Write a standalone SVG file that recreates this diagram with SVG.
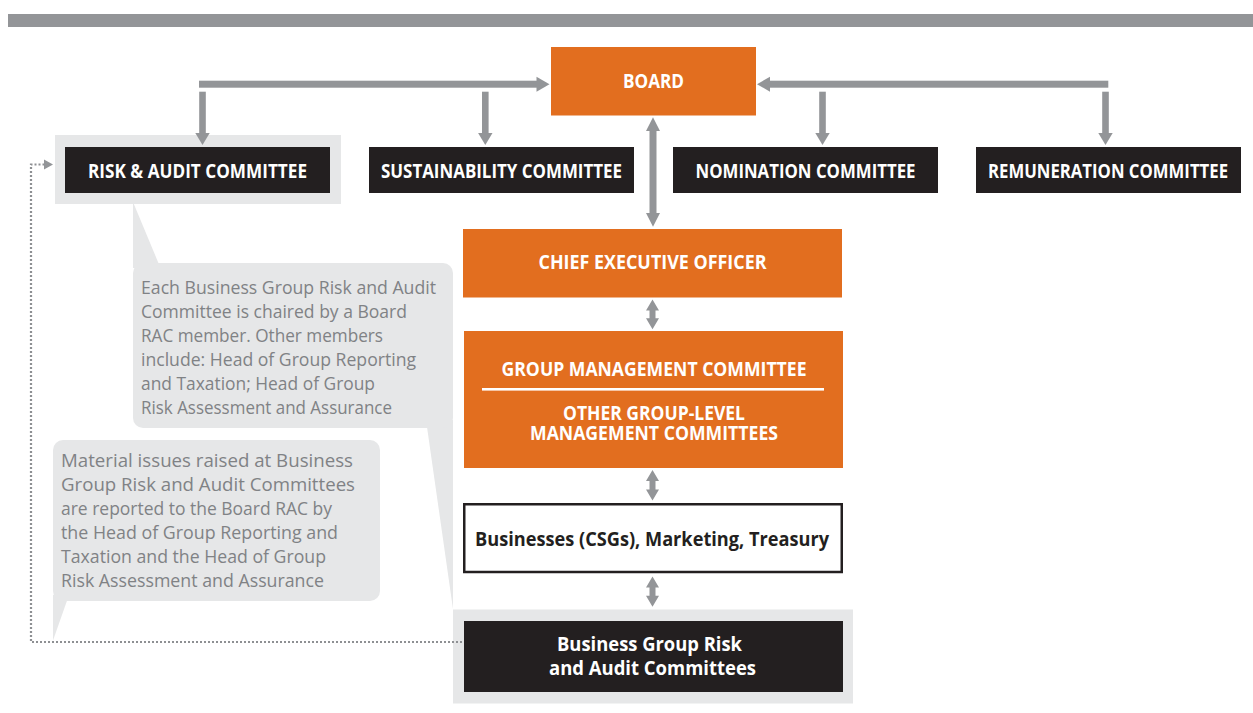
<svg xmlns="http://www.w3.org/2000/svg" width="1253" height="713" viewBox="0 0 1253 713">
<style>
.org{fill:#E26E1F}
.blk{fill:#231F20}
.bg{fill:#E6E7E8}
.arr{fill:#939598}
.hd{font-family:"Open Sans","Liberation Sans",sans-serif;font-weight:bold;font-size:19.5px;fill:#FFFFFF;text-anchor:middle}
.hd2{font-family:"Open Sans","Liberation Sans",sans-serif;font-weight:bold;font-size:20px;fill:#FFFFFF;text-anchor:middle}
.hd3{font-family:"Open Sans","Liberation Sans",sans-serif;font-weight:bold;font-size:19px;fill:#FFFFFF;text-anchor:middle}
.note{font-family:"Open Sans","Liberation Sans",sans-serif;font-size:18.5px;fill:#808285}
.dot{fill:none;stroke:#8E9093;stroke-width:2.2;stroke-dasharray:2 2}
</style>
<rect x="8" y="14" width="1245" height="13" fill="#939598"/>

<g id="board">
  <rect class="org" x="551" y="47" width="205" height="68.5"/>
  <text class="hd2" x="653.5" y="88.3" textLength="61" lengthAdjust="spacingAndGlyphs">BOARD</text>
</g>

<g id="risk-audit-committee">
  <rect class="bg" x="55" y="135" width="286" height="69"/>
  <rect class="blk" x="65" y="147" width="265" height="46"/>
  <text class="hd" x="197.5" y="177.5" textLength="219" lengthAdjust="spacingAndGlyphs">RISK &amp; AUDIT COMMITTEE</text>
</g>

<g id="sustainability-committee">
  <rect class="blk" x="369" y="147" width="265" height="46"/>
  <text class="hd" x="501.5" y="177.5" textLength="241" lengthAdjust="spacingAndGlyphs">SUSTAINABILITY COMMITTEE</text>
</g>

<g id="nomination-committee">
  <rect class="blk" x="673" y="147" width="265" height="46"/>
  <text class="hd" x="805.5" y="177.5" textLength="220" lengthAdjust="spacingAndGlyphs">NOMINATION COMMITTEE</text>
</g>

<g id="remuneration-committee">
  <rect class="blk" x="976" y="147" width="265" height="46"/>
  <text class="hd" x="1108" y="177.5" textLength="240" lengthAdjust="spacingAndGlyphs">REMUNERATION COMMITTEE</text>
</g>

<g id="ceo">
  <rect class="org" x="463" y="229" width="379" height="68.5"/>
  <text class="hd" x="652.5" y="269" textLength="228" lengthAdjust="spacingAndGlyphs">CHIEF EXECUTIVE OFFICER</text>
</g>

<g id="group-management-committee">
  <rect class="org" x="464" y="331" width="379" height="137"/>
  <text class="hd" x="654" y="376" textLength="305" lengthAdjust="spacingAndGlyphs">GROUP MANAGEMENT COMMITTEE</text>
  <rect x="482" y="388" width="342" height="2.6" fill="#FFFFFF"/>
  <text class="hd3" x="654" y="420" textLength="182" lengthAdjust="spacingAndGlyphs">OTHER GROUP-LEVEL</text>
  <text class="hd3" x="654" y="440" textLength="248" lengthAdjust="spacingAndGlyphs">MANAGEMENT COMMITTEES</text>
</g>

<g id="businesses">
  <rect x="464.25" y="504.25" width="377.5" height="67.75" fill="#FFFFFF" stroke="#231F20" stroke-width="2.5"/>
  <text class="hd2" x="652" y="545.5" style="fill:#231F20" textLength="354" lengthAdjust="spacingAndGlyphs">Businesses (CSGs), Marketing, Treasury</text>
</g>

<g id="business-group-rac">
  <rect class="bg" x="453" y="609.5" width="400" height="94"/>
  <rect class="blk" x="464" y="621" width="379" height="71"/>
  <text class="hd3" x="649.5" y="650.7" textLength="185" lengthAdjust="spacingAndGlyphs">Business Group Risk</text>
  <text class="hd3" x="652.5" y="674.5" textLength="207" lengthAdjust="spacingAndGlyphs">and Audit Committees</text>
</g>

<g id="callout-members">
  <polygon class="bg" points="133,202 133,268 160.5,268"/>
  <polygon class="bg" points="426,420 453,420 453,609"/>
  <rect class="bg" x="133" y="263" width="320" height="165" rx="10" ry="10"/>
  <text class="note" x="141" y="294.3" textLength="295" lengthAdjust="spacingAndGlyphs">Each Business Group Risk and Audit</text>
  <text class="note" x="141" y="318.3" textLength="266" lengthAdjust="spacingAndGlyphs">Committee is chaired by a Board</text>
  <text class="note" x="141" y="342.3" textLength="242" lengthAdjust="spacingAndGlyphs">RAC member. Other members</text>
  <text class="note" x="141" y="366.3" textLength="275" lengthAdjust="spacingAndGlyphs">include: Head of Group Reporting</text>
  <text class="note" x="141" y="390.3" textLength="234" lengthAdjust="spacingAndGlyphs">and Taxation; Head of Group</text>
  <text class="note" x="141" y="414" textLength="251" lengthAdjust="spacingAndGlyphs">Risk Assessment and Assurance</text>
</g>

<g id="callout-material-issues">
  <polygon class="bg" points="53,595 69,595 53,640.5"/>
  <rect class="bg" x="53" y="440" width="327" height="161" rx="10" ry="10"/>
  <text class="note" x="61" y="467" textLength="292" lengthAdjust="spacingAndGlyphs">Material issues raised at Business</text>
  <text class="note" x="61" y="491" textLength="294" lengthAdjust="spacingAndGlyphs">Group Risk and Audit Committees</text>
  <text class="note" x="61" y="515" textLength="271" lengthAdjust="spacingAndGlyphs">are reported to the Board RAC by</text>
  <text class="note" x="61" y="539" textLength="277" lengthAdjust="spacingAndGlyphs">the Head of Group Reporting and</text>
  <text class="note" x="61" y="563" textLength="265" lengthAdjust="spacingAndGlyphs">Taxation and the Head of Group</text>
  <text class="note" x="61" y="587" textLength="263" lengthAdjust="spacingAndGlyphs">Risk Assessment and Assurance</text>
</g>

<g id="connectors">
  <rect class="arr" x="199" y="80.7" width="338" height="7"/>
  <polygon class="arr" points="536.5,76.7 549.5,84.2 536.5,91.7"/>
  <rect class="arr" x="770" y="80.7" width="338.3" height="7"/>
  <polygon class="arr" points="770,76.7 757,84.2 770,91.7"/>
  <rect class="arr" x="199.2" y="91.7" width="6.6" height="42"/>
  <polygon class="arr" points="195.3,133 209.7,133 202.5,145"/>
  <rect class="arr" x="482" y="91.7" width="6.6" height="42"/>
  <polygon class="arr" points="478.1,133 492.5,133 485.3,145"/>
  <rect class="arr" x="819.2" y="91.7" width="6.6" height="42"/>
  <polygon class="arr" points="815.3,133 829.7,133 822.5,145"/>
  <rect class="arr" x="1102.2" y="91.7" width="6.6" height="42"/>
  <polygon class="arr" points="1098.3,133 1112.7,133 1105.5,145"/>
  <polygon class="arr" points="653,117.3 660,131 656.5,131 656.5,213 660,213 653,226.7 646,213 649.5,213 649.5,131 646,131"/>
  <polygon class="arr" points="652.5,299.5 659,310.5 655.5,310.5 655.5,318.3 659,318.3 652.5,329.3 646,318.3 649.5,318.3 649.5,310.5 646,310.5"/>
  <polygon class="arr" points="652.5,470 659,481 655.5,481 655.5,489.5 659,489.5 652.5,500.5 646,489.5 649.5,489.5 649.5,481 646,481"/>
  <polygon class="arr" points="652.5,576.5 659,587.5 655.5,587.5 655.5,595.7 659,595.7 652.5,606.7 646,595.7 649.5,595.7 649.5,587.5 646,587.5"/>
  <path class="dot" d="M462,642 H31 V164.5 H44"/>
  <polygon class="arr" points="44,159.5 53,164.5 44,169.5"/>
</g>
</svg>
